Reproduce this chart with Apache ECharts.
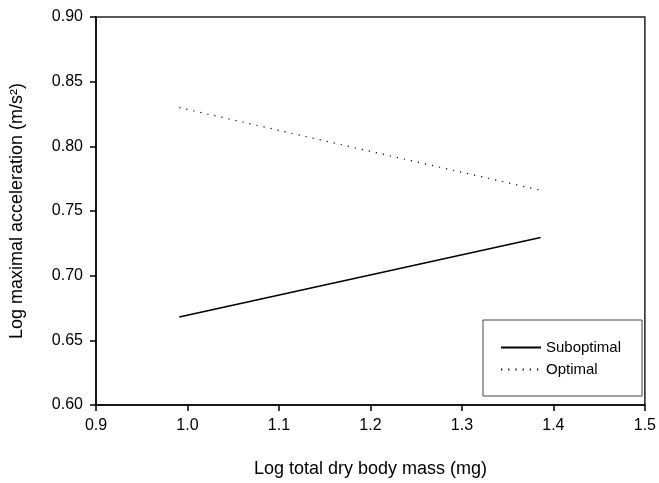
<!DOCTYPE html>
<html>
<head>
<meta charset="UTF-8">
<title>Log maximal acceleration</title>
<script src="https://cdn.jsdelivr.net/npm/echarts@6/dist/echarts.min.js"></script>
<style>
  html, body { margin: 0; padding: 0; background: #fff; }
  #chart { width: 659px; height: 483px; }
</style>
</head>
<body>
<div id="chart"></div>
<script>
// values
var massX = [0.991, 1.386];
var suboptimalY = [0.668, 0.7295];
var optimalY = [0.830, 0.766];
var seriesNames = ['Suboptimal', 'Optimal'];

function pairs(xs, ys) {
  return xs.map(function (x, i) { return [x, ys[i]]; });
}

var font = '"Liberation Sans", Arial, sans-serif';
var chart = echarts.init(document.getElementById('chart'), null, { renderer: 'canvas' });

chart.setOption({
  animation: false,
  backgroundColor: '#fff',
  textStyle: { fontFamily: font, color: '#000' },
  grid: { left: 95, right: 11, top: 17, bottom: 78, show: true, borderColor: '#222', borderWidth: 1.5 },
  xAxis: {
    type: 'value', min: 0.9, max: 1.5, interval: 0.1,
    name: 'Log total dry body mass (mg)', nameLocation: 'middle', nameGap: 55,
    nameTextStyle: { fontSize: 18, color: '#000', fontFamily: font },
    axisLine: { show: true, lineStyle: { color: '#000', width: 1.5 } },
    axisTick: { show: true, length: 6, lineStyle: { color: '#000', width: 1.5 } },
    axisLabel: { fontSize: 16, color: '#000', margin: 13, fontFamily: font,
      formatter: function (v) { return v.toFixed(1); } },
    splitLine: { show: false }
  },
  yAxis: {
    type: 'value', min: 0.6, max: 0.9, interval: 0.05,
    name: 'Log maximal acceleration (m/s²)', nameLocation: 'middle', nameGap: 70,
    nameTextStyle: { fontSize: 18, color: '#000', fontFamily: font },
    axisLine: { show: true, lineStyle: { color: '#000', width: 1.5 } },
    axisTick: { show: true, length: 6, lineStyle: { color: '#000', width: 1.5 } },
    axisLabel: { fontSize: 16, color: '#000', margin: 13, fontFamily: font,
      formatter: function (v) { return v.toFixed(2); } },
    splitLine: { show: false }
  },
  legend: {
    orient: 'vertical', left: 483, top: 320,
    padding: [20, 21, 19, 17], itemWidth: 40, itemHeight: 14, itemGap: 7,
    borderColor: '#444', borderWidth: 1,
    itemStyle: { opacity: 0 },
    textStyle: { fontSize: 15, color: '#000', fontFamily: font },
    data: seriesNames
  },
  series: [
    {
      name: seriesNames[0], type: 'line', symbol: 'none',
      itemStyle: { color: '#000' },
      lineStyle: { color: '#000', width: 1.6 },
      data: pairs(massX, suboptimalY)
    },
    {
      name: seriesNames[1], type: 'line', symbol: 'none',
      itemStyle: { color: '#000' },
      lineStyle: { color: '#000', width: 1.2, type: [1.2, 6] },
      data: pairs(massX, optimalY)
    }
  ]
});
</script>
</body>
</html>
